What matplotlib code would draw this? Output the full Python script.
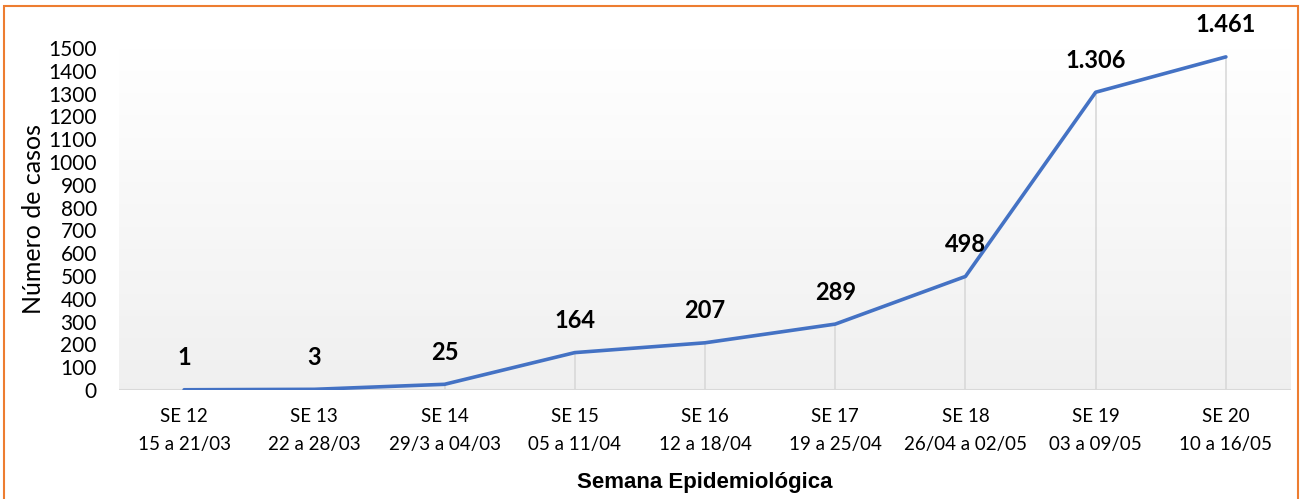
import numpy as np
import matplotlib.pyplot as plt
from matplotlib.patches import Rectangle

# dados
semanas = ["SE 12", "SE 13", "SE 14", "SE 15", "SE 16", "SE 17", "SE 18", "SE 19", "SE 20"]
periodos = ["15 a 21/03", "22 a 28/03", "29/3 a 04/03", "05 a 11/04", "12 a 18/04",
            "19 a 25/04", "26/04 a 02/05", "03 a 09/05", "10 a 16/05"]
casos = [1, 3, 25, 164, 207, 289, 498, 1306, 1461]

plt.rcParams['font.family'] = ['Lato', 'DejaVu Sans']

fig = plt.figure(figsize=(13.03, 4.99), dpi=100)
ax = fig.add_axes([119 / 1303, 1 - 390 / 499, 1172 / 1303, 342 / 499])

x = np.arange(len(casos))

# fundo em gradiente
grad = np.linspace(1.0, 0.94, 256).reshape(-1, 1)
ax.imshow(np.dstack([grad, grad, grad]), extent=[-0.5, len(casos) - 0.5, 0, 1500],
          aspect='auto', zorder=0)

# linhas verticais
ax.vlines(x, 0, casos, color='#D9D9D9', lw=1.2, zorder=1)
ax.axhline(0, color='#D9D9D9', lw=1.5, zorder=1)

ax.plot(x, casos, color='#4472C4', lw=2.6, solid_capstyle='round', zorder=3)

for xi, v in zip(x, casos):
    ax.annotate(f"{v:,}".replace(",", "."), (xi, v), xytext=(0, 23),
                textcoords='offset points', ha='center', va='center',
                fontsize=17, fontweight='bold', annotation_clip=False)

ax.set_xlim(-0.5, len(casos) - 0.5)
ax.set_ylim(0, 1500)
ax.set_yticks(range(0, 1501, 100))
ax.set_xticks(x)
ax.set_xticklabels([f"{s}\n{p}" for s, p in zip(semanas, periodos)], fontsize=13.5,
                   linespacing=1.75)
ax.tick_params(axis='y', labelsize=15, length=0, pad=16)
ax.tick_params(axis='x', length=0, pad=13)
for s in ax.spines.values():
    s.set_visible(False)

ax.set_ylabel("Número de casos", fontsize=18, labelpad=2)
ax.set_xlabel("Semana Epidemiológica", fontsize=16, fontweight='bold',
              family=['Liberation Sans'], labelpad=14)

# borda laranja
fig.patches.append(Rectangle((4 / 1303, -0.05), 1294 / 1303, 1.05 - 6 / 499,
                             transform=fig.transFigure, fill=False,
                             edgecolor='#ED7D31', lw=1.5, clip_on=False))

fig.savefig("out.png", dpi=100)
